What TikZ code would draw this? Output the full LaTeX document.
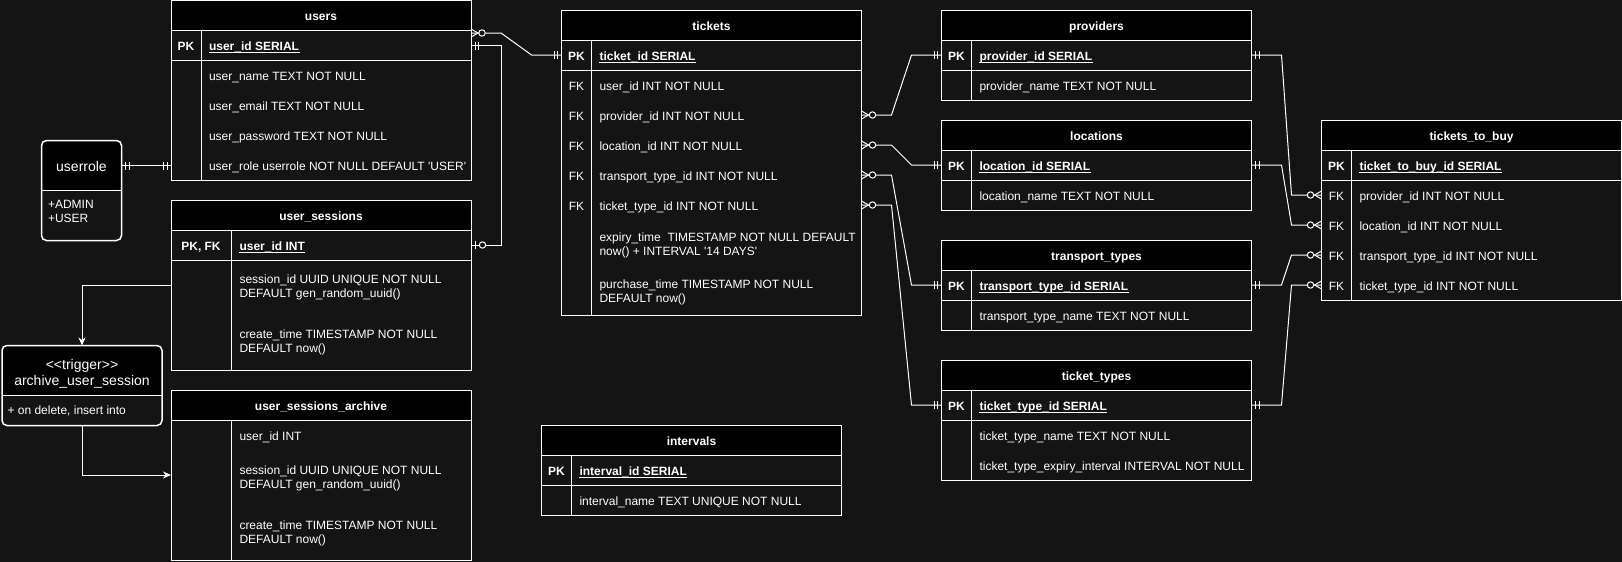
\documentclass[tikz,border=0pt]{standalone}
\usepackage{fontspec}
\setmainfont{Liberation Sans}
\usetikzlibrary{calc,arrows.meta}
\definecolor{bg}{RGB}{20,20,20}
\newcommand\fs{\fontsize{12pt}{14pt}\selectfont}
\newcommand\fl{\fontsize{14pt}{16pt}\selectfont}
% table frame: name, x, y, width, height, key column width, title
\newcommand\ertable[7]{%
  \node[tbl, minimum width=#4pt, minimum height=#5pt, anchor=north west] (#1) at (#2,#3) {};
  \node[hdr, minimum width=#4pt, anchor=north west] (#1-h) at (#1.north west) {#7};
  \draw[tline] ([xshift=#6pt]#1-h.south west) -- ([xshift=#6pt]#1.south west);
}
\newcommand\pksep[1]{\draw[tline] ([yshift=-30pt]#1-h.south west) -- ([yshift=-30pt]#1-h.south east);}
% ER markers: point, outward direction (+1 right, -1 left)
\newcommand\mone[2]{\draw[conn] ($(#1)+(#2*4,-4)$) -- ++(0,8) ($(#1)+(#2*7.5,-4)$) -- ++(0,8);}
\newcommand\zmany[2]{\draw[conn] ($(#1)+(0,-4)$) -- ($(#1)+(#2*7,0)$) -- ($(#1)+(0,4)$);
  \draw[conn, fill=bg] ($(#1)+(#2*11,0)$) circle[radius=3.2pt];}
\newcommand\zone[2]{\draw[conn] ($(#1)+(#2*4,-4)$) -- ++(0,8);
  \draw[conn, fill=bg] ($(#1)+(#2*11.5,0)$) circle[radius=3.2pt];}
\begin{document}
\begin{tikzpicture}[x=1pt,y=-1pt,line width=1pt,
  tline/.style={draw=white, line width=1pt},
  tbl/.style={rectangle, draw=white, fill=bg, inner sep=0pt, outer sep=0pt, line width=1pt},
  hdr/.style={rectangle, draw=white, fill=black, inner sep=0pt, outer sep=0pt, minimum height=30pt,
    text=white, font=\fs\bfseries, text height=10.4pt, text depth=0pt, line width=1pt},
  fld/.style={anchor=west, inner sep=0pt, text=white, font=\fs, text height=10.4pt, text depth=0pt},
  ul/.style={append after command={([yshift=-1.6pt]\tikzlastnode.south west) edge[draw=white, line width=0.9pt] ([yshift=-1.6pt]\tikzlastnode.south east)}},
  bfld/.style={fld, font=\fs\bfseries, ul},
  keyl/.style={anchor=center, inner sep=0pt, text=white, font=\fs, text height=10.4pt, text depth=0pt},
  pkl/.style={keyl, font=\fs\bfseries},
  bigl/.style={anchor=center, inner sep=0pt, text=white, font=\fl, text height=11.8pt, text depth=0pt},
  ubox/.style={rectangle, draw=white, fill=bg, rounded corners=5pt, line width=1.5pt, inner sep=0pt, outer sep=0pt},
  ubline/.style={draw=white, line width=1.5pt},
  conn/.style={draw=white, line width=1pt},
  arr/.style={conn, -{Stealth[length=8pt,width=7pt]}}]

\fill[bg] (0,0) rectangle (1622,562);
\useasboundingbox (0,0) rectangle (1622,562);

% ---------------- users
\ertable{users}{171}{0.5}{300}{180}{30}{users}
\pksep{users}
\node[pkl] (users-k0) at (186,45.5) {PK};
\node[bfld] (users-f0) at (208.5,45.5) {user\_id SERIAL};
\node[fld] (users-f1) at (208.5,75.5) {user\_name TEXT NOT NULL};
\node[fld] (users-f2) at (208.5,105.5) {user\_email TEXT NOT NULL};
\node[fld] (users-f3) at (208.5,135.5) {user\_password TEXT NOT NULL};
\node[fld] (users-f4) at (208.5,165.5) {user\_role userrole NOT NULL DEFAULT \textquotesingle USER\textquotesingle};

% ---------------- user_sessions
\ertable{us}{171}{200}{300}{170}{60}{user\_sessions}
\pksep{us}
\node[pkl] (us-k0) at (201,245) {PK, FK};
\node[bfld] (us-f0) at (239,245) {user\_id INT};
\node[fld] (us-f1a) at (239,278.5) {session\_id UUID UNIQUE NOT NULL};
\node[fld] (us-f1b) at (239,292.5) {DEFAULT gen\_random\_uuid()};
\node[fld] (us-f2a) at (239,333.5) {create\_time TIMESTAMP NOT NULL};
\node[fld] (us-f2b) at (239,347.5) {DEFAULT now()};

% ---------------- user_sessions_archive
\ertable{usa}{171}{390}{300}{170}{60}{user\_sessions\_archive}
\node[fld] (usa-f0) at (239,435.5) {user\_id INT};
\node[fld] (usa-f1a) at (239,469) {session\_id UUID UNIQUE NOT NULL};
\node[fld] (usa-f1b) at (239,483) {DEFAULT gen\_random\_uuid()};
\node[fld] (usa-f2a) at (239,524) {create\_time TIMESTAMP NOT NULL};
\node[fld] (usa-f2b) at (239,538) {DEFAULT now()};

% ---------------- tickets
\ertable{tickets}{561.5}{10}{300}{305}{30}{tickets}
\pksep{tickets}
\node[pkl] (tickets-k0) at (576.5,55) {PK};
\node[bfld] (tickets-f0) at (599,55) {ticket\_id SERIAL};
\node[keyl] (tickets-k1) at (576.5,85) {FK};
\node[fld] (tickets-f1) at (599,85) {user\_id INT NOT NULL};
\node[keyl] (tickets-k2) at (576.5,115) {FK};
\node[fld] (tickets-f2) at (599,115) {provider\_id INT NOT NULL};
\node[keyl] (tickets-k3) at (576.5,145) {FK};
\node[fld] (tickets-f3) at (599,145) {location\_id INT NOT NULL};
\node[keyl] (tickets-k4) at (576.5,175) {FK};
\node[fld] (tickets-f4) at (599,175) {transport\_type\_id INT NOT NULL};
\node[keyl] (tickets-k5) at (576.5,205) {FK};
\node[fld] (tickets-f5) at (599,205) {ticket\_type\_id INT NOT NULL};
\node[fld] (tickets-f6a) at (599,236.7) {expiry\_time\ \ TIMESTAMP NOT NULL DEFAULT};
\node[fld] (tickets-f6b) at (599,250.7) {now() + INTERVAL \textquotesingle 14 DAYS\textquotesingle};
\node[fld] (tickets-f7a) at (599,283.3) {purchase\_time TIMESTAMP NOT NULL};
\node[fld] (tickets-f7b) at (599,297.3) {DEFAULT now()};

% ---------------- providers
\ertable{prov}{941.5}{10}{310}{90}{30}{providers}
\pksep{prov}
\node[pkl] (prov-k0) at (956.5,55) {PK};
\node[bfld] (prov-f0) at (979,55) {provider\_id SERIAL};
\node[fld] (prov-f1) at (979,85) {provider\_name TEXT NOT NULL};

% ---------------- locations
\ertable{loc}{941.5}{120}{310}{90}{30}{locations}
\pksep{loc}
\node[pkl] (loc-k0) at (956.5,165) {PK};
\node[bfld] (loc-f0) at (979,165) {location\_id SERIAL};
\node[fld] (loc-f1) at (979,195) {location\_name TEXT NOT NULL};

% ---------------- transport_types
\ertable{tt}{941.5}{240}{310}{90}{30}{transport\_types}
\pksep{tt}
\node[pkl] (tt-k0) at (956.5,285) {PK};
\node[bfld] (tt-f0) at (979,285) {transport\_type\_id SERIAL};
\node[fld] (tt-f1) at (979,315) {transport\_type\_name TEXT NOT NULL};

% ---------------- ticket_types
\ertable{ty}{941.5}{360}{310}{120}{30}{ticket\_types}
\pksep{ty}
\node[pkl] (ty-k0) at (956.5,405) {PK};
\node[bfld] (ty-f0) at (979,405) {ticket\_type\_id SERIAL};
\node[fld] (ty-f1) at (979,435) {ticket\_type\_name TEXT NOT NULL};
\node[fld] (ty-f2) at (979,465) {ticket\_type\_expiry\_interval INTERVAL NOT NULL};

% ---------------- intervals
\ertable{iv}{541.5}{425}{300}{90}{30}{intervals}
\pksep{iv}
\node[pkl] (iv-k0) at (556.5,470) {PK};
\node[bfld] (iv-f0) at (579,470) {interval\_id SERIAL};
\node[fld] (iv-f1) at (579,500) {interval\_name TEXT UNIQUE NOT NULL};

% ---------------- tickets_to_buy
\ertable{tb}{1321.5}{120}{300}{180}{30}{tickets\_to\_buy}
\pksep{tb}
\node[pkl] (tb-k0) at (1336.5,165) {PK};
\node[bfld] (tb-f0) at (1359,165) {ticket\_to\_buy\_id SERIAL};
\node[keyl] (tb-k1) at (1336.5,195) {FK};
\node[fld] (tb-f1) at (1359,195) {provider\_id INT NOT NULL};
\node[keyl] (tb-k2) at (1336.5,225) {FK};
\node[fld] (tb-f2) at (1359,225) {location\_id INT NOT NULL};
\node[keyl] (tb-k3) at (1336.5,255) {FK};
\node[fld] (tb-f3) at (1359,255) {transport\_type\_id INT NOT NULL};
\node[keyl] (tb-k4) at (1336.5,285) {FK};
\node[fld] (tb-f4) at (1359,285) {ticket\_type\_id INT NOT NULL};

% ---------------- userrole enum
\node[ubox, minimum width=80pt, minimum height=100pt, anchor=north west,
  path picture={\fill[black] (path picture bounding box.north west) rectangle ([yshift=-50pt]path picture bounding box.north east);}]
  (userrole) at (41.5,140.5) {};
\draw[ubline] (41.5,190.5) -- (121.5,190.5);
\node[bigl] (userrole-t) at (81.5,165.5) {userrole};
\node[fld] (userrole-a) at (47.5,203.3) {+ADMIN};
\node[fld] (userrole-b) at (47.5,217.7) {+USER};

% ---------------- trigger
\node[ubox, minimum width=160pt, minimum height=80pt, anchor=north west,
  path picture={\fill[black] (path picture bounding box.north west) rectangle ([yshift=-50pt]path picture bounding box.north east);}]
  (trigger) at (2,345.5) {};
\draw[ubline] (2,395.5) -- (162,395.5);
\node[bigl] (trig-t1) at (82,363.3) {<{}<trigger>{}>};
\node[bigl] (trig-t2) at (82,379.3) {archive\_user\_session};
\node[fld] (trig-f) at (7,409) {+ on delete, insert into};

% ---------------- connector end points
\coordinate (e-u-t) at ($(users.east |- users-f0)+(0,-12.5)$);
\coordinate (e-t-pk) at (tickets.west |- tickets-f0);
\coordinate (e-u-pk) at (users.east |- users-f0);
\coordinate (e-us-pk) at (us.east |- us-f0);
\coordinate (e-ur) at (userrole.east |- users-f4);
\coordinate (e-u-role) at (users.west |- users-f4);
\coordinate (e-t1) at (tickets.east |- tickets-f2);
\coordinate (e-t2) at (tickets.east |- tickets-f3);
\coordinate (e-t3) at (tickets.east |- tickets-f4);
\coordinate (e-t4) at (tickets.east |- tickets-f5);
\coordinate (e-p-w) at (prov.west |- prov-f0);
\coordinate (e-p-e) at (prov.east |- prov-f0);
\coordinate (e-l-w) at (loc.west |- loc-f0);
\coordinate (e-l-e) at (loc.east |- loc-f0);
\coordinate (e-tt-w) at (tt.west |- tt-f0);
\coordinate (e-tt-e) at (tt.east |- tt-f0);
\coordinate (e-ty-w) at (ty.west |- ty-f0);
\coordinate (e-ty-e) at (ty.east |- ty-f0);
\coordinate (e-b1) at (tb.west |- tb-f1);
\coordinate (e-b2) at (tb.west |- tb-f2);
\coordinate (e-b3) at (tb.west |- tb-f3);
\coordinate (e-b4) at (tb.west |- tb-f4);

% ---------------- connectors
\draw[conn] (e-u-t) -- ++(30,0) -- ($(e-t-pk)+(-30,0)$) -- (e-t-pk);
\draw[conn] (e-u-pk) -- ++(30,0) |- (e-us-pk);
\draw[conn] (e-ur) -- (e-u-role);
\draw[conn] (e-t1) -- ++(30,0) -- ($(e-p-w)+(-30,0)$) -- (e-p-w);
\draw[conn] (e-t2) -- ++(30,0) -- ($(e-l-w)+(-30,0)$) -- (e-l-w);
\draw[conn] (e-t3) -- ++(30,0) -- ($(e-tt-w)+(-30,0)$) -- (e-tt-w);
\draw[conn] (e-t4) -- ++(30,0) -- ($(e-ty-w)+(-30,0)$) -- (e-ty-w);
\draw[conn] (e-p-e) -- ++(30,0) -- ($(e-b1)+(-30,0)$) -- (e-b1);
\draw[conn] (e-l-e) -- ++(30,0) -- ($(e-b2)+(-30,0)$) -- (e-b2);
\draw[conn] (e-tt-e) -- ++(30,0) -- ($(e-b3)+(-30,0)$) -- (e-b3);
\draw[conn] (e-ty-e) -- ++(30,0) -- ($(e-b4)+(-30,0)$) -- (e-b4);
\draw[arr] (us.west) -| (trigger.north);
\draw[arr] (trigger.south) |- (usa.west);

% ---------------- markers
\zmany{e-u-t}{1} \mone{e-t-pk}{-1}
\mone{e-u-pk}{1} \zone{e-us-pk}{1}
\mone{e-ur}{1} \mone{e-u-role}{-1}
\zmany{e-t1}{1} \zmany{e-t2}{1} \zmany{e-t3}{1} \zmany{e-t4}{1}
\mone{e-p-w}{-1} \mone{e-l-w}{-1} \mone{e-tt-w}{-1} \mone{e-ty-w}{-1}
\mone{e-p-e}{1} \mone{e-l-e}{1} \mone{e-tt-e}{1} \mone{e-ty-e}{1}
\zmany{e-b1}{-1} \zmany{e-b2}{-1} \zmany{e-b3}{-1} \zmany{e-b4}{-1}
\end{tikzpicture}
\end{document}
